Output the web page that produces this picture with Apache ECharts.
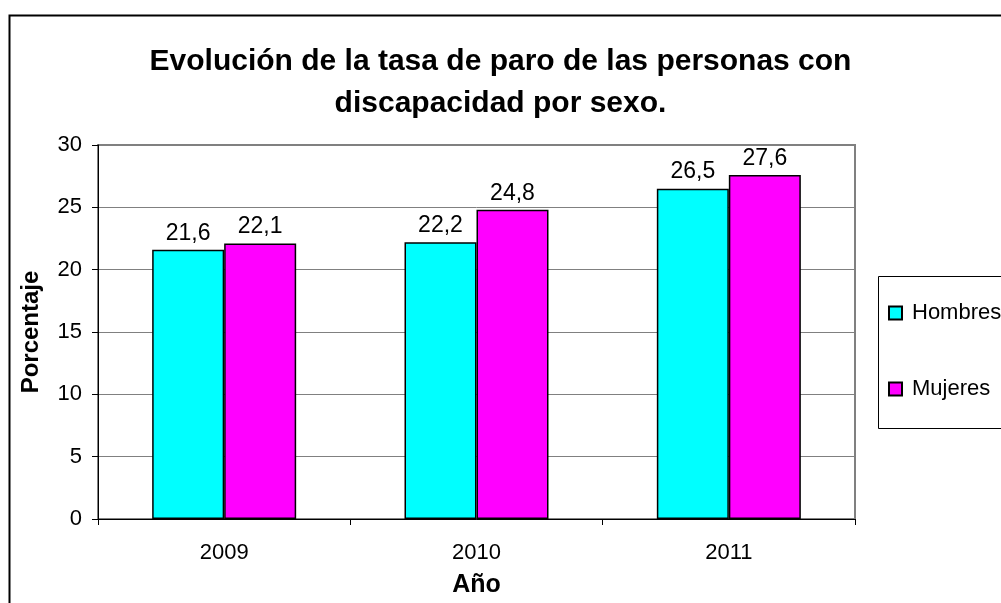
<!DOCTYPE html>
<html>
<head>
<meta charset="utf-8">
<script src="https://cdn.jsdelivr.net/npm/echarts@6/dist/echarts.min.js"></script>
<style>
  html, body { margin: 0; padding: 0; background: #fff; }
  #chart { width: 1001px; height: 603px; }
</style>
</head>
<body>
<div id="chart"></div>
<script>
var years = ['2009', '2010', '2011'];
var hombres = [21.6, 22.2, 26.5];
var mujeres = [22.1, 24.8, 27.6];
var yTicks = [0, 5, 10, 15, 20, 25, 30];

var font = 'Liberation Sans, Arial, sans-serif';
var chart = echarts.init(document.getElementById('chart'));

// etiquetas con coma decimal
function coma(p) {
  return String(p.value).replace('.', ',');
}

chart.setOption({
  animation: false,
  backgroundColor: '#fff',
  title: {
    text: 'Evolución de la tasa de paro de las personas con\ndiscapacidad por sexo.',
    left: 'center',
    top: 36,
    textStyle: {
      fontFamily: font,
      fontSize: 30,
      fontWeight: 'bold',
      color: '#000',
      lineHeight: 42
    }
  },
  grid: {
    left: 98,
    right: 146,
    top: 145,
    bottom: 81,
    show: true,
    borderColor: '#808080',
    borderWidth: 2
  },
  legend: {
    orient: 'vertical',
    left: 888,
    top: 302,
    padding: 0,
    itemGap: 54,
    itemWidth: 13,
    itemHeight: 13,
    icon: 'rect',
    data: ['Hombres', 'Mujeres'],
    textStyle: {
      fontFamily: font,
      fontSize: 22,
      color: '#000',
      padding: [0, 0, 0, 5]
    }
  },
  xAxis: {
    type: 'category',
    data: years,
    name: 'Año',
    nameLocation: 'middle',
    nameGap: 54,
    nameTextStyle: { fontFamily: font, fontSize: 25, fontWeight: 'bold', color: '#000' },
    axisLine: { lineStyle: { color: '#000', width: 1 } },
    axisTick: { show: true, alignWithLabel: false, interval: 0, length: 6, lineStyle: { color: '#000' } },
    axisLabel: { fontFamily: font, fontSize: 22, color: '#000', margin: 23 },
    splitLine: { show: false }
  },
  yAxis: {
    type: 'value',
    min: yTicks[0],
    max: yTicks[yTicks.length - 1],
    interval: 5,
    name: 'Porcentaje',
    nameLocation: 'middle',
    nameGap: 55,
    nameTextStyle: { fontFamily: font, fontSize: 24, fontWeight: 'bold', color: '#000' },
    axisLine: { show: true, lineStyle: { color: '#000', width: 1 } },
    axisTick: { show: true, length: 6, lineStyle: { color: '#000' } },
    axisLabel: { fontFamily: font, fontSize: 22, color: '#000', margin: 16 },
    splitLine: { show: true, lineStyle: { color: '#808080', width: 1 } }
  },
  series: [
    {
      name: 'Hombres',
      type: 'bar',
      data: hombres,
      barWidth: 72,
      barGap: '0%',
      itemStyle: { color: '#00FFFF', borderColor: '#000', borderWidth: 1.5 },
      label: { show: true, position: 'top', distance: 5, formatter: coma, fontFamily: font, fontSize: 23, color: '#000' }
    },
    {
      name: 'Mujeres',
      type: 'bar',
      data: mujeres,
      barWidth: 72,
      barGap: '0%',
      itemStyle: { color: '#FF00FF', borderColor: '#000', borderWidth: 1.5 },
      label: { show: true, position: 'top', distance: 5, formatter: coma, fontFamily: font, fontSize: 23, color: '#000' }
    }
  ],
  graphic: [
    {
      type: 'rect',
      shape: { x: 9.5, y: 15.5, width: 1100, height: 700 },
      style: { fill: 'none', stroke: '#000', lineWidth: 2 },
      silent: true
    },
    {
      type: 'rect',
      shape: { x: 878.5, y: 276.5, width: 200, height: 152 },
      style: { fill: 'none', stroke: '#000', lineWidth: 1 },
      silent: true
    }
  ]
});
</script>
</body>
</html>
